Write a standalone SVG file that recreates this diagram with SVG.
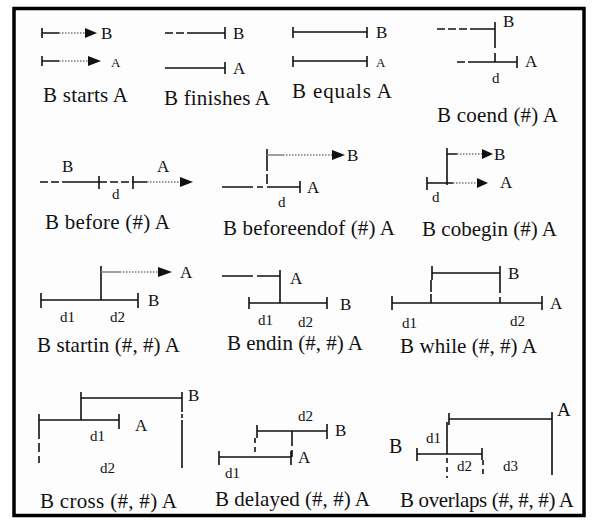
<svg xmlns="http://www.w3.org/2000/svg" width="600" height="526" viewBox="0 0 600 526">
<style>
.ln{stroke:#111;stroke-width:1.6;fill:none}
.dsh{stroke:#111;stroke-width:1.6;fill:none;stroke-dasharray:8 3}
.dot{stroke:#777;stroke-width:1.6;fill:none;stroke-dasharray:1.5 1.5}
.gr{stroke:#888;stroke-width:1.6;fill:none}
.ah{fill:#111}
text{font-family:"Liberation Serif","DejaVu Serif","Times New Roman",serif;fill:#111}
.lbl{font-size:21px}
.t{font-size:17px}
.s{font-size:13px}
.d{font-size:15px}
</style>
<rect x="0" y="0" width="600" height="526" fill="#fff"/>
<rect id="frame" x="14" y="8.5" width="570" height="507" fill="#fdfdfd" stroke="#000" stroke-width="3.5"/>

<g font-family="Liberation Serif, DejaVu Serif, serif">
<g id="starts">
<path class="ln" d="M42 28V38M42 33H59M42 56V66M42 61H59"/>
<path class="dot" d="M59 33H85M59 61H88"/>
<polygon class="ah" points="85,28 97,33 85,38"/>
<polygon class="ah" points="88,56 101,61 88,66"/>
<text class="t" x="101" y="39">B</text>
<text class="s" x="111" y="67">A</text>
<text class="lbl" x="43" y="102" textLength="85">B starts A</text>
</g>

<g id="finishes">
<path class="dsh" d="M165 33H195"/>
<path class="ln" d="M195 33H225M225 27V39M165 68H225M225 62V74"/>
<text class="t" x="233" y="39">B</text>
<text class="t" x="233" y="74">A</text>
<text class="lbl" x="164" y="105" textLength="106">B finishes A</text>
</g>

<g id="equals">
<path class="ln" d="M293 27V38M293 32H367M367 27V38M293 56V67M293 61H367M367 56V67"/>
<text class="t" x="376" y="38">B</text>
<text class="s" x="376" y="67">A</text>
<text class="lbl" x="292" y="98" textLength="100">B equals A</text>
</g>

<g id="coend">
<path class="dsh" d="M437 29H470M457 62H470"/>
<path class="ln" d="M470 29H495M495 22V48M495 53V62M470 62H517M517 56V68"/>
<text class="t" x="503" y="27">B</text>
<text class="t" x="525" y="67">A</text>
<text class="d" x="492" y="83">d</text>
<text class="lbl" x="437" y="122" textLength="121">B coend (#) A</text>
</g>

<g id="before">
<path class="dsh" d="M40 182H70M99 182H133"/>
<path class="ln" d="M70 182H99M99 176V189M133 176V189M133 182H147"/>
<path class="dot" d="M147 182H180"/>
<polygon class="ah" points="180,177 193,182 180,187"/>
<text class="t" x="62" y="172">B</text>
<text class="t" x="157" y="172">A</text>
<text class="d" x="112" y="199">d</text>
<text class="lbl" x="45" y="229" textLength="125">B before (#) A</text>
</g>

<g id="beforeendof">
<path class="ln" d="M267 149V161M222 187H253M257 187H263M267 187H300M300 181V193"/>
<path class="ln" d="M267 161V187" style="stroke-dasharray:10 3"/>
<path class="gr" d="M267 155H283"/>
<path class="dot" d="M283 155H332"/>
<polygon class="ah" points="332,150 345,155 332,160"/>
<text class="t" x="347" y="161">B</text>
<text class="t" x="307" y="193">A</text>
<text class="d" x="278" y="207">d</text>
<text class="lbl" x="223" y="235" textLength="172">B beforeendof (#) A</text>
</g>

<g id="cobegin">
<path class="ln" d="M447 148V185M447 154H457M427 177V190M427 183H453"/>
<path class="dot" d="M457 154H482M453 183H477"/>
<polygon class="ah" points="482,149 493,154 482,159"/>
<polygon class="ah" points="477,178 488,183 477,188"/>
<text class="t" x="494" y="160">B</text>
<text class="t" x="500" y="188">A</text>
<text class="d" x="432" y="202">d</text>
<text class="lbl" x="422" y="236" textLength="135">B cobegin (#) A</text>
</g>

<g id="startin">
<path class="ln" d="M101 266V300M41 293V308M41 300H138M138 293V308"/>
<path class="gr" d="M101 272H120"/>
<path class="dot" d="M120 272H158"/>
<polygon class="ah" points="158,267 172,272 158,277"/>
<text class="t" x="180" y="278">A</text>
<text class="t" x="148" y="306">B</text>
<text class="d" x="60" y="322">d1</text>
<text class="d" x="110" y="322">d2</text>
<text class="lbl" x="37" y="352" textLength="143">B startin (#, #) A</text>
</g>

<g id="endin">
<path class="ln" d="M222 276H253M257 276H280M280 270V303M249 297V309M249 303H327M327 297V309"/>
<text class="t" x="290" y="284">A</text>
<text class="t" x="340" y="310">B</text>
<text class="d" x="258" y="325">d1</text>
<text class="d" x="298" y="327">d2</text>
<text class="lbl" x="227" y="350" textLength="136">B endin (#, #) A</text>
</g>

<g id="while">
<path class="ln" d="M432 266V280M432 273H500M500 266V293M500 297V303M392 296V310M392 303H542M542 296V310"/>
<path class="ln" d="M431 280V303" style="stroke-dasharray:12 2"/>
<text class="t" x="508" y="279">B</text>
<text class="t" x="550" y="309">A</text>
<text class="d" x="402" y="328">d1</text>
<text class="d" x="510" y="326">d2</text>
<text class="lbl" x="400" y="353" textLength="137">B while (#, #) A</text>
</g>

<g id="cross">
<path class="ln" d="M81 392V420M81 398H182M182 392V404M39 414V430M39 420H119M119 414V429M182 424V468"/>
<path class="ln" d="M39 430V463" style="stroke-dasharray:9 4"/>
<path class="ln" d="M182 404V424" style="stroke-dasharray:8 2 4 2"/>
<text class="t" x="188" y="401">B</text>
<text class="t" x="135" y="431">A</text>
<text class="d" x="90" y="441">d1</text>
<text class="d" x="100" y="473">d2</text>
<text class="lbl" x="40" y="508" textLength="137">B cross (#, #) A</text>
</g>

<g id="delayed">
<path class="ln" d="M257 425V438M257 431H327M327 424V439M292 431V446M292 450V457M219 451V465M219 457H291M291 451V465"/>
<path class="ln" d="M255 438V456" style="stroke-dasharray:5 4"/>
<text class="t" x="335" y="436">B</text>
<text class="t" x="298" y="463">A</text>
<text class="d" x="298" y="421">d2</text>
<text class="d" x="225" y="478">d1</text>
<text class="lbl" x="215" y="506" textLength="155">B delayed (#, #) A</text>
</g>

<g id="overlaps">
<path class="ln" d="M449 413V425M449 419H552M552 412V475M447 422V454M417 448V461M417 454H482M482 448V460"/>
<path class="ln" d="M447 458V478M483 460V476" style="stroke-dasharray:5 4"/>
<text class="t" x="557" y="416" style="font-size:19px">A</text>
<text class="t" x="389" y="453" style="font-size:20px">B</text>
<text class="d" x="426" y="443">d1</text>
<text class="d" x="457" y="471">d2</text>
<text class="d" x="503" y="471">d3</text>
<text class="lbl" x="400" y="507" textLength="174">B overlaps (#, #, #) A</text>
</g>
</g>
</svg>
